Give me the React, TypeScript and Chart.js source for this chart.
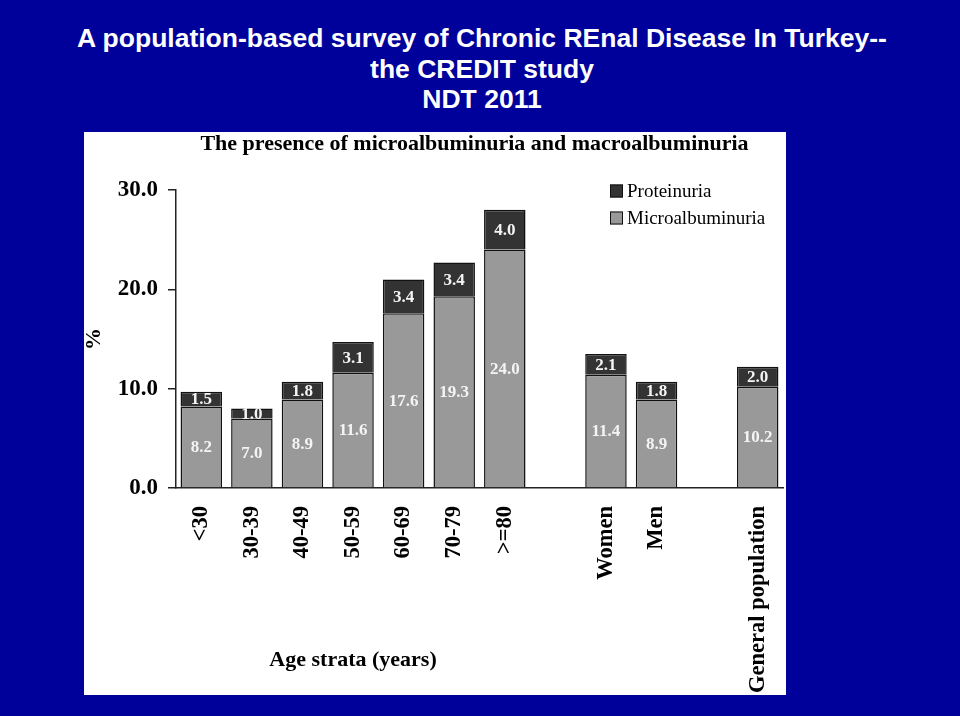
import React, { useEffect, useRef } from 'react';
import { Chart, registerables } from 'chart.js';

Chart.register(...registerables);

const titleLines = [
  'A population-based survey of Chronic REnal Disease In Turkey--',
  'the CREDIT study',
  'NDT 2011',
];
const subtitle = 'The presence of microalbuminuria and macroalbuminuria';
const xTitle = 'Age strata (years)';
const yTitle = '%';

const categories = ['<30', '30-39', '40-49', '50-59', '60-69', '70-79', '>=80', '', 'Women', 'Men', '', 'General population'];
const microalbuminuria = [8.2, 7.0, 8.9, 11.6, 17.6, 19.3, 24.0, null, 11.4, 8.9, null, 10.2];
const proteinuria = [1.5, 1.0, 1.8, 3.1, 3.4, 3.4, 4.0, null, 2.1, 1.8, null, 2.0];
const yTicks = [0, 10, 20, 30];
const seriesNames = ['Microalbuminuria', 'Proteinuria'];
const seriesColors = ['#999999', '#333333'];

const SERIF = '"Liberation Serif", "Times New Roman", Times, serif';
const SANS = '"Liberation Sans", Arial, Helvetica, sans-serif';

const overlayPlugin = {
  id: 'overlay',
  afterDatasetsDraw(chart: any) {
    const { ctx } = chart;
    ctx.save();
    ctx.fillStyle = '#f4f4f4';
    ctx.font = `bold 17px ${SERIF}`;
    ctx.textAlign = 'center';
    ctx.textBaseline = 'middle';
    chart.data.datasets.forEach((ds: any, i: number) => {
      const meta = chart.getDatasetMeta(i);
      meta.data.forEach((el: any, j: number) => {
        const v = ds.data[j];
        if (v == null) return;
        const p = el.getProps(['x', 'y', 'base'], true);
        ctx.fillText(v.toFixed(1), p.x, (p.y + p.base) / 2 + 1);
      });
    });
    ctx.restore();
  },
  afterDraw(chart: any) {
    const { ctx, chartArea, scales } = chart;
    ctx.save();
    ctx.fillStyle = '#000';
    ctx.textAlign = 'center';
    ctx.textBaseline = 'middle';
    // subtitle
    ctx.font = `bold 22px ${SERIF}`;
    ctx.fillText(subtitle, (chartArea.left + chartArea.right) / 2 - 5, 12);
    // x title centered under age strata
    const x0 = scales.x.getPixelForValue(0);
    const x6 = scales.x.getPixelForValue(6);
    ctx.font = `bold 22px ${SERIF}`;
    ctx.fillText(xTitle, (x0 + x6) / 2, 528);
    // y title
    ctx.save();
    ctx.translate(10, (chartArea.top + chartArea.bottom) / 2);
    ctx.rotate(-Math.PI / 2);
    ctx.font = `bold 22px ${SERIF}`;
    ctx.fillText(yTitle, 0, 0);
    ctx.restore();
    // legend (Proteinuria first)
    const lx = chartArea.right - 173;
    const rows = [1, 0];
    ctx.font = `19px ${SERIF}`;
    ctx.textAlign = 'left';
    rows.forEach((si, r) => {
      const cy = 59 + r * 27;
      ctx.fillStyle = seriesColors[si];
      ctx.fillRect(lx, cy - 6.5, 13, 13);
      ctx.strokeStyle = '#111';
      ctx.lineWidth = 1;
      ctx.strokeRect(lx + 0.5, cy - 6, 12, 12);
      ctx.fillStyle = '#000';
      ctx.fillText(seriesNames[si], lx + 17, cy + 1);
    });
    ctx.restore();
  },
};

export default function App() {
  const canvasRef = useRef<HTMLCanvasElement | null>(null);

  useEffect(() => {
    const canvas = canvasRef.current;
    if (!canvas) return;
    const chart = new Chart(canvas, {
      type: 'bar',
      data: {
        labels: categories,
        datasets: [
          {
            label: seriesNames[0],
            data: microalbuminuria,
            backgroundColor: seriesColors[0],
            borderColor: '#111',
            borderWidth: 1.5,
            categoryPercentage: 1,
            barPercentage: 0.82,
          },
          {
            label: seriesNames[1],
            data: proteinuria,
            backgroundColor: seriesColors[1],
            borderColor: '#111',
            borderWidth: 1.5,
            categoryPercentage: 1,
            barPercentage: 0.82,
          },
        ],
      },
      options: {
        responsive: false,
        animation: false,
        devicePixelRatio: 1,
        layout: { padding: { top: 58, right: 3, left: 0, bottom: 0 } },
        plugins: {
          legend: { display: false },
          tooltip: { enabled: false },
          title: { display: false },
        },
        scales: {
          x: {
            stacked: true,
            grid: { display: false },
            border: { display: true, color: '#222', width: 1.5 },
            ticks: {
              color: '#000',
              font: { family: SERIF, size: 22.5, weight: 'bold' },
              maxRotation: 90,
              minRotation: 90,
              autoSkip: false,
              padding: 10,
            },
            afterFit: (scale: any) => {
              scale.height = 207;
              scale.paddingLeft = 0;
              scale.paddingRight = 0;
            },
          },
          y: {
            stacked: true,
            min: 0,
            max: 30,
            grid: {
              drawOnChartArea: false,
              drawTicks: true,
              tickLength: 8,
              color: '#222',
              lineWidth: 1.5,
            },
            border: { display: true, color: '#222', width: 1.5 },
            ticks: {
              color: '#000',
              font: { family: SERIF, size: 23, weight: 'bold' },
              padding: 10,
              callback: (v: any) => Number(v).toFixed(1),
            },
            afterBuildTicks: (scale: any) => {
              scale.ticks = yTicks.map((v) => ({ value: v }));
            },
            afterFit: (scale: any) => {
              scale.width = 92;
              scale.paddingTop = 0;
              scale.paddingBottom = 0;
            },
          },
        },
      },
      plugins: [overlayPlugin],
    } as any);
    return () => chart.destroy();
  }, []);

  return (
    <div
      style={{
        position: 'fixed',
        left: 0,
        top: 0,
        width: 960,
        height: 716,
        background: '#00009a',
        overflow: 'hidden',
      }}
    >
      <div
        style={{
          position: 'absolute',
          left: 0,
          top: 23,
          width: 964,
          textAlign: 'center',
          color: '#fff',
          fontFamily: SANS,
          fontWeight: 'bold',
          fontSize: 26.5,
          lineHeight: '30.5px',
        }}
      >
        {titleLines.map((t, i) => (
          <div key={i}>{t}</div>
        ))}
      </div>
      <div
        style={{
          position: 'absolute',
          left: 84,
          top: 132,
          width: 702,
          height: 563,
          background: '#fff',
        }}
      >
        <canvas ref={canvasRef} width={702} height={563} style={{ display: 'block' }} />
      </div>
    </div>
  );
}
